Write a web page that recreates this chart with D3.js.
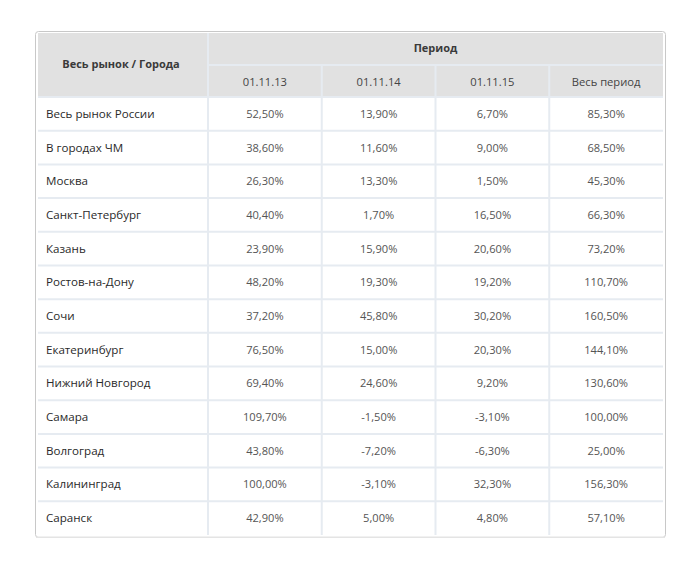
<!DOCTYPE html>
<html><head><meta charset="utf-8">
<script src="https://cdn.jsdelivr.net/npm/d3@7"></script>
<style>
body{margin:0;background:#fff;}
svg text{font-family:"Open Sans","Noto Sans",sans-serif;}
</style></head>
<body><svg id="c" width="697" height="568"></svg>
<script>
const cities = ["Весь рынок России","В городах ЧМ","Москва","Санкт-Петербург","Казань","Ростов-на-Дону","Сочи","Екатеринбург","Нижний Новгород","Самара","Волгоград","Калининград","Саранск"];
const periods = ["01.11.13","01.11.14","01.11.15","Весь период"];
const v2013 = ["52,50%","38,60%","26,30%","40,40%","23,90%","48,20%","37,20%","76,50%","69,40%","109,70%","43,80%","100,00%","42,90%"];
const v2014 = ["13,90%","11,60%","13,30%","1,70%","15,90%","19,30%","45,80%","15,00%","24,60%","-1,50%","-7,20%","-3,10%","5,00%"];
const v2015 = ["6,70%","9,00%","1,50%","16,50%","20,60%","19,20%","30,20%","20,30%","9,20%","-3,10%","-6,30%","32,30%","4,80%"];
const vAll = ["85,30%","68,50%","45,30%","66,30%","73,20%","110,70%","160,50%","144,10%","130,60%","100,00%","25,00%","156,30%","57,10%"];
const headFirst = "Весь рынок / Города";
const headGroup = "Период";
const cols = [v2013, v2014, v2015, vAll];

const svg = d3.select("#c");
// outer box
svg.append("rect").attr("x",35.5).attr("y",31.5).attr("width",630).attr("height",506).attr("rx",3)
  .attr("fill","#fff").attr("stroke","#c8c8c8").attr("stroke-width",1);
svg.append("rect").attr("x",36).attr("y",536.5).attr("width",629).attr("height",1.5).attr("fill","#e4e4e4");

const x0 = 38, firstW = 170, x1 = 663;
const xc = d3.scaleBand().domain(periods).range([x0+firstW, x1]);
const hTop = 33, hMid = 65, hBot = 97, yEnd = 535;
const y = d3.scaleBand().domain(cities).range([hBot, yEnd]);

// header background
svg.append("rect").attr("x",x0).attr("y",hTop).attr("width",x1-x0).attr("height",hBot-hTop).attr("fill","#e1e1e1");

const lineCol = "#e6ebf1";
const g = svg.append("g");
g.append("line").attr("x1",x0+firstW).attr("x2",x0+firstW).attr("y1",hTop).attr("y2",yEnd).attr("stroke",lineCol).attr("stroke-width",2);
g.append("line").attr("x1",x0+firstW).attr("x2",x1).attr("y1",hMid).attr("y2",hMid).attr("stroke",lineCol).attr("stroke-width",2);
periods.slice(1).forEach(p=>{
  g.append("line").attr("x1",xc(p)).attr("x2",xc(p)).attr("y1",hMid).attr("y2",yEnd).attr("stroke",lineCol).attr("stroke-width",2);
});
g.append("line").attr("x1",x0).attr("x2",x1).attr("y1",hBot).attr("y2",hBot).attr("stroke",lineCol).attr("stroke-width",2);
cities.slice(1).forEach(c=>{
  g.append("line").attr("x1",x0).attr("x2",x1).attr("y1",y(c)).attr("y2",y(c)).attr("stroke",lineCol).attr("stroke-width",2);
});

// header text
svg.append("text").attr("x",x0+firstW/2-2).attr("y",(hTop+hBot)/2+3).attr("text-anchor","middle")
  .attr("font-size",11).attr("font-weight","bold").attr("fill","#3a3a3a").text(headFirst);
svg.append("text").attr("x",(x0+firstW+x1)/2).attr("y",(hTop+hMid)/2+3).attr("text-anchor","middle")
  .attr("font-size",11).attr("font-weight","bold").attr("fill","#3a3a3a").text(headGroup);
svg.selectAll(".ph").data(periods).join("text").attr("x",d=>xc(d)+xc.bandwidth()/2).attr("y",(hMid+hBot)/2+5)
  .attr("text-anchor","middle").attr("font-size",11.2).attr("fill","#444").text(d=>d);

// rows
svg.selectAll(".city").data(cities).join("text").attr("x",46).attr("y",d=>y(d)+y.bandwidth()/2+4)
  .attr("font-size",11.6).attr("fill","#2a2a2a").text(d=>d);
cols.forEach((arr,i)=>{
  svg.selectAll(".v"+i).data(arr).join("text").attr("x",xc(periods[i])+xc.bandwidth()/2)
    .attr("y",(d,j)=>y(cities[j])+y.bandwidth()/2+4).attr("text-anchor","middle")
    .attr("font-size",11.1).attr("fill","#555").text(d=>d);
});
</script></body></html>
